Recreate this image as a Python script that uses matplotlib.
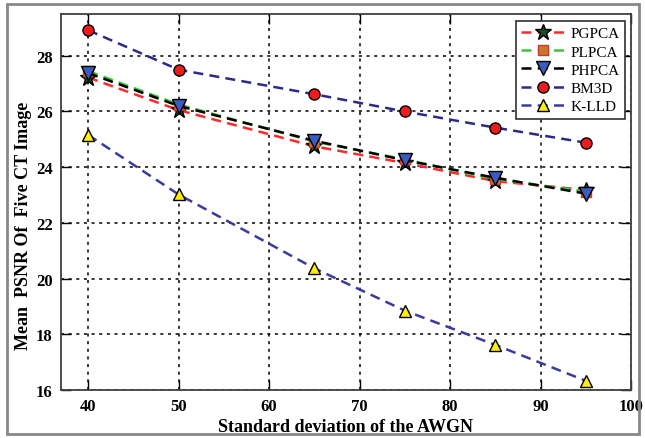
import matplotlib
matplotlib.use("Agg")
import matplotlib.pyplot as plt
from matplotlib.patches import Rectangle

sigma = [40, 50, 65, 75, 85, 95]
pgpca = [27.22, 26.05, 24.75, 24.15, 23.50, 23.18]
plpca = [27.45, 26.25, 24.92, 24.28, 23.57, 23.12]
phpca = [27.38, 26.20, 24.95, 24.25, 23.62, 23.05]
bm3d = [28.92, 27.50, 26.62, 26.00, 25.42, 24.88]
klld = [25.16, 23.02, 20.37, 18.85, 17.62, 16.33]

series = [
    ("PGPCA", pgpca, "#ff2a2a", "*", "#1f4a1f", "black", 12),
    ("PLPCA", plpca, "#3cc43c", "s", "#c8782a", "#c83c28", 7),
    ("PHPCA", phpca, "black", "v", "#3a5cc0", "black", 10),
    ("BM3D", bm3d, "#2a2a8a", "o", "#ee1c1c", "black", 8),
    ("K-LLD", klld, "#3a3aa0", "^", "#ffee00", "black", 9),
]

plt.rcParams['font.family'] = ['Liberation Serif', 'DejaVu Serif']

fig = plt.figure(figsize=(6.45, 4.39), dpi=100)
ax = fig.add_axes([61/645, 48/439, 570/645, 376/439])

for name, vals, lc, mk, mfc, mec, ms in series:
    ax.plot(sigma, vals, linestyle=(0, (4, 2.5)), color=lc, linewidth=1.8,
            marker=mk, markerfacecolor=mfc, markeredgecolor=mec,
            markersize=ms, markeredgewidth=1.0, label=name)

ax.set_xlim(37, 100)
ax.set_ylim(16, 29.5)
ax.set_xticks([40, 50, 60, 70, 80, 90, 100])
ax.set_yticks([16, 18, 20, 22, 24, 26, 28])
ax.grid(True, linestyle=(0, (2, 3)), color='black', linewidth=1.1)
ax.tick_params(direction='in', top=True, right=True, length=7, width=1.0,
               labelsize=12, pad=6)
for lbl in ax.get_xticklabels() + ax.get_yticklabels():
    lbl.set_fontweight('bold')
for s in ax.spines.values():
    s.set_color('#404040')
    s.set_linewidth(1.3)

ax.set_xlabel("Standard deviation of the AWGN", fontsize=13, fontweight='bold', labelpad=3)
ax.set_ylabel("Mean  PSNR Of  Five CT Image", fontsize=13, fontweight='bold')
ax.yaxis.set_label_coords(-0.05, 0.44)

leg = ax.legend(loc='upper right', fontsize=11, frameon=True, fancybox=False,
                framealpha=1.0, edgecolor='#303030', handlelength=2.8,
                handletextpad=0.4, borderpad=0.35, labelspacing=0.3,
                borderaxespad=0.3, bbox_to_anchor=(0.997, 0.993))
leg.get_frame().set_linewidth(1.2)

fig.patches.append(Rectangle((7/645, 4/439), 632/645, 430/439, transform=fig.transFigure,
                             fill=False, edgecolor='#888888', linewidth=2.0))

fig.savefig("out.png", dpi=100)
